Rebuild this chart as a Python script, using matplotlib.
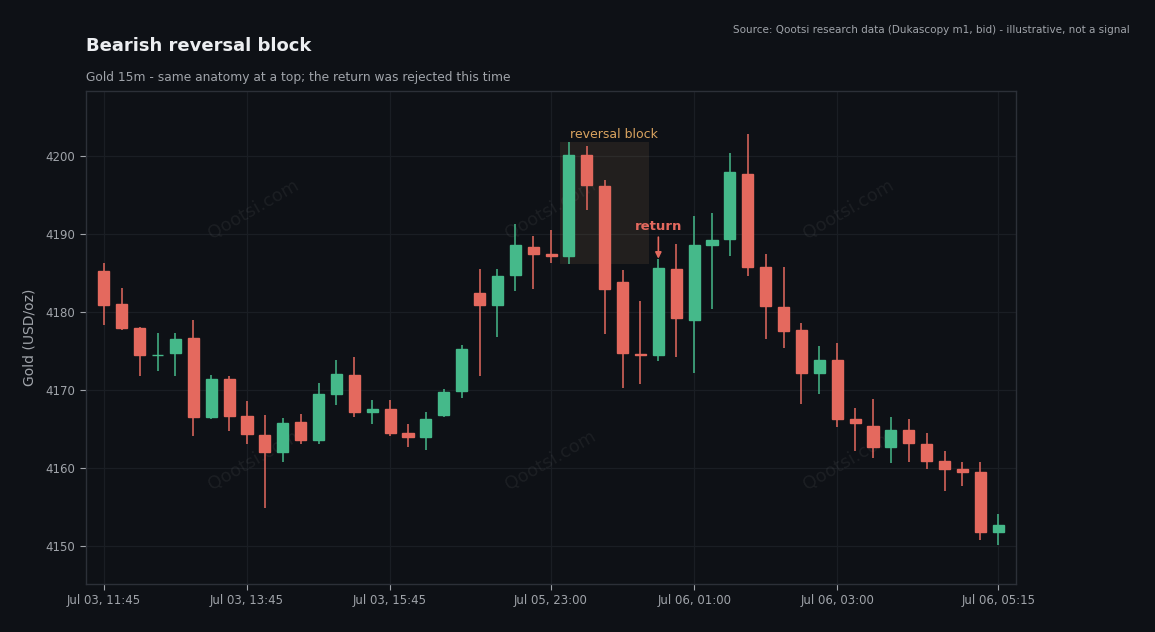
import matplotlib
matplotlib.use("Agg")
import matplotlib.pyplot as plt
import numpy as np

# OHLC, gold 15m candles
opens = [4185.2, 4181.0, 4177.9, 4174.4, 4174.7, 4176.6, 4166.5, 4171.4, 4166.6, 4164.2,
         4162.0, 4165.9, 4163.5, 4169.5, 4171.9, 4167.2, 4167.5, 4164.4, 4163.9, 4166.7,
         4169.8, 4182.4, 4180.9, 4184.7, 4188.3, 4187.4, 4187.1, 4200.1, 4196.1, 4183.8,
         4174.6, 4174.4, 4185.5, 4178.9, 4188.6, 4189.3, 4197.7, 4185.7, 4180.6, 4177.6,
         4172.2, 4173.8, 4166.2, 4165.3, 4162.6, 4164.9, 4163.1, 4160.9, 4159.8, 4159.4,
         4151.8]
highs = [4186.3, 4183.1, 4178.1, 4177.3, 4177.3, 4179.0, 4171.9, 4171.7, 4168.5, 4166.8,
         4166.4, 4166.9, 4170.9, 4173.8, 4174.2, 4168.7, 4168.7, 4165.6, 4167.2, 4170.1,
         4175.8, 4185.5, 4185.5, 4191.2, 4189.7, 4190.5, 4201.7, 4201.3, 4196.9, 4185.3,
         4181.4, 4186.8, 4188.7, 4192.3, 4192.6, 4200.4, 4202.8, 4187.4, 4185.8, 4178.6,
         4175.6, 4176.0, 4167.6, 4168.8, 4166.5, 4166.3, 4164.4, 4162.2, 4160.8, 4160.8,
         4154.1]
lows = [4178.3, 4177.6, 4171.7, 4172.4, 4171.7, 4164.1, 4166.3, 4164.7, 4163.1, 4154.9,
        4160.8, 4163.0, 4163.1, 4168.1, 4166.5, 4165.6, 4164.1, 4162.7, 4162.3, 4166.5,
        4169.0, 4171.7, 4176.7, 4182.7, 4182.9, 4186.3, 4186.1, 4193.1, 4177.2, 4170.2,
        4170.7, 4173.7, 4174.2, 4172.2, 4180.3, 4187.1, 4184.6, 4176.5, 4175.4, 4168.2,
        4169.5, 4165.2, 4162.2, 4161.2, 4160.6, 4160.7, 4159.8, 4157.0, 4157.6, 4150.8,
        4150.1]
closes = [4180.9, 4177.9, 4174.4, 4174.5, 4176.5, 4166.5, 4171.4, 4166.6, 4164.3, 4162.0,
          4165.8, 4163.5, 4169.4, 4172.0, 4167.2, 4167.5, 4164.5, 4163.9, 4166.3, 4169.7,
          4175.2, 4180.9, 4184.6, 4188.5, 4187.4, 4187.2, 4200.1, 4196.2, 4182.9, 4174.7,
          4174.4, 4185.6, 4179.2, 4188.5, 4189.2, 4197.9, 4185.8, 4180.7, 4177.5, 4172.2,
          4173.8, 4166.3, 4165.7, 4162.6, 4164.9, 4163.2, 4160.9, 4159.8, 4159.4, 4151.8,
          4152.6]

tick_pos = [0, 8, 16, 25, 33, 41, 50]
tick_labels = ["Jul 03, 11:45", "Jul 03, 13:45", "Jul 03, 15:45", "Jul 05, 23:00",
               "Jul 06, 01:00", "Jul 06, 03:00", "Jul 06, 05:15"]

block_first, block_last = 26, 30   # reversal block candles
return_idx = 31                    # the rejected return

bg = "#0e1116"
up_col = "#45b98a"
down_col = "#e4695e"
grid_col = "#1a1e24"
text_col = "#a0a4aa"

fig = plt.figure(figsize=(11.55, 6.32), dpi=100, facecolor=bg)
ax = fig.add_axes([0.0745, 0.076, 0.8052, 0.780])
ax.set_facecolor(bg)

x = np.arange(len(opens))
o = np.array(opens)
c = np.array(closes)
colors = [up_col if cc >= oo else down_col for oo, cc in zip(o, c)]

ax.vlines(x, lows, highs, colors=colors, linewidth=1.1, zorder=3)
ax.bar(x, np.abs(c - o), bottom=np.minimum(o, c), width=0.62, color=colors,
       edgecolor=colors, linewidth=1.0, zorder=4)

# reversal block zone: from the first candle's low to the highest high
b_low = lows[block_first]
b_high = max(highs[block_first:block_last + 1])
ax.fill_between([block_first - 0.5, block_last + 0.5], b_low, b_high,
                color="#b48c5a", alpha=0.12, linewidth=0, zorder=1)
ax.text(block_first + 0.05, b_high + 0.2, "reversal block", color="#d9a35f",
        fontsize=9, ha="left", va="bottom", zorder=5)

# return annotation
ax.annotate("return", xy=(return_idx, highs[return_idx]),
            xytext=(return_idx, highs[return_idx] + 3.3),
            color=down_col, fontsize=9.5, fontweight="bold", ha="center", va="bottom",
            arrowprops=dict(arrowstyle="-|>", color=down_col, lw=1.2,
                            mutation_scale=9, shrinkA=1, shrinkB=0), zorder=6)

# watermarks
for wx in [0.18, 0.5, 0.82]:
    for wy in [0.76, 0.25]:
        ax.text(wx, wy, "Qootsi.com", transform=ax.transAxes, color="#ffffff",
                alpha=0.06, fontsize=13, rotation=30, ha="center", va="center",
                zorder=2)

ax.set_xlim(-1, 51)
ax.set_ylim(4145.1, 4208.3)
ax.set_xticks(tick_pos)
ax.set_xticklabels(tick_labels)
ax.set_yticks(np.arange(4150, 4201, 10))
ax.grid(True, color=grid_col, linewidth=0.9, zorder=0)
ax.set_axisbelow(True)
ax.tick_params(colors=text_col, labelsize=8.5, length=4, width=0.8)
ax.tick_params(axis="y", pad=4)
for sp in ax.spines.values():
    sp.set_color("#2c3038")
    sp.set_linewidth(1.0)
ax.set_ylabel("Gold (USD/oz)", color=text_col, fontsize=10, labelpad=6)

fig.text(0.0745, 0.928, "Bearish reversal block", color="#eceef1", fontsize=13,
         fontweight="bold", ha="left", va="center")
fig.text(0.0745, 0.877, "Gold 15m - same anatomy at a top; the return was rejected this time",
         color=text_col, fontsize=8.8, ha="left", va="center")
fig.text(0.978, 0.953, "Source: Qootsi research data (Dukascopy m1, bid) - illustrative, not a signal",
         color=text_col, fontsize=7.5, ha="right", va="center")

fig.savefig("out.png", dpi=100, facecolor=bg)
